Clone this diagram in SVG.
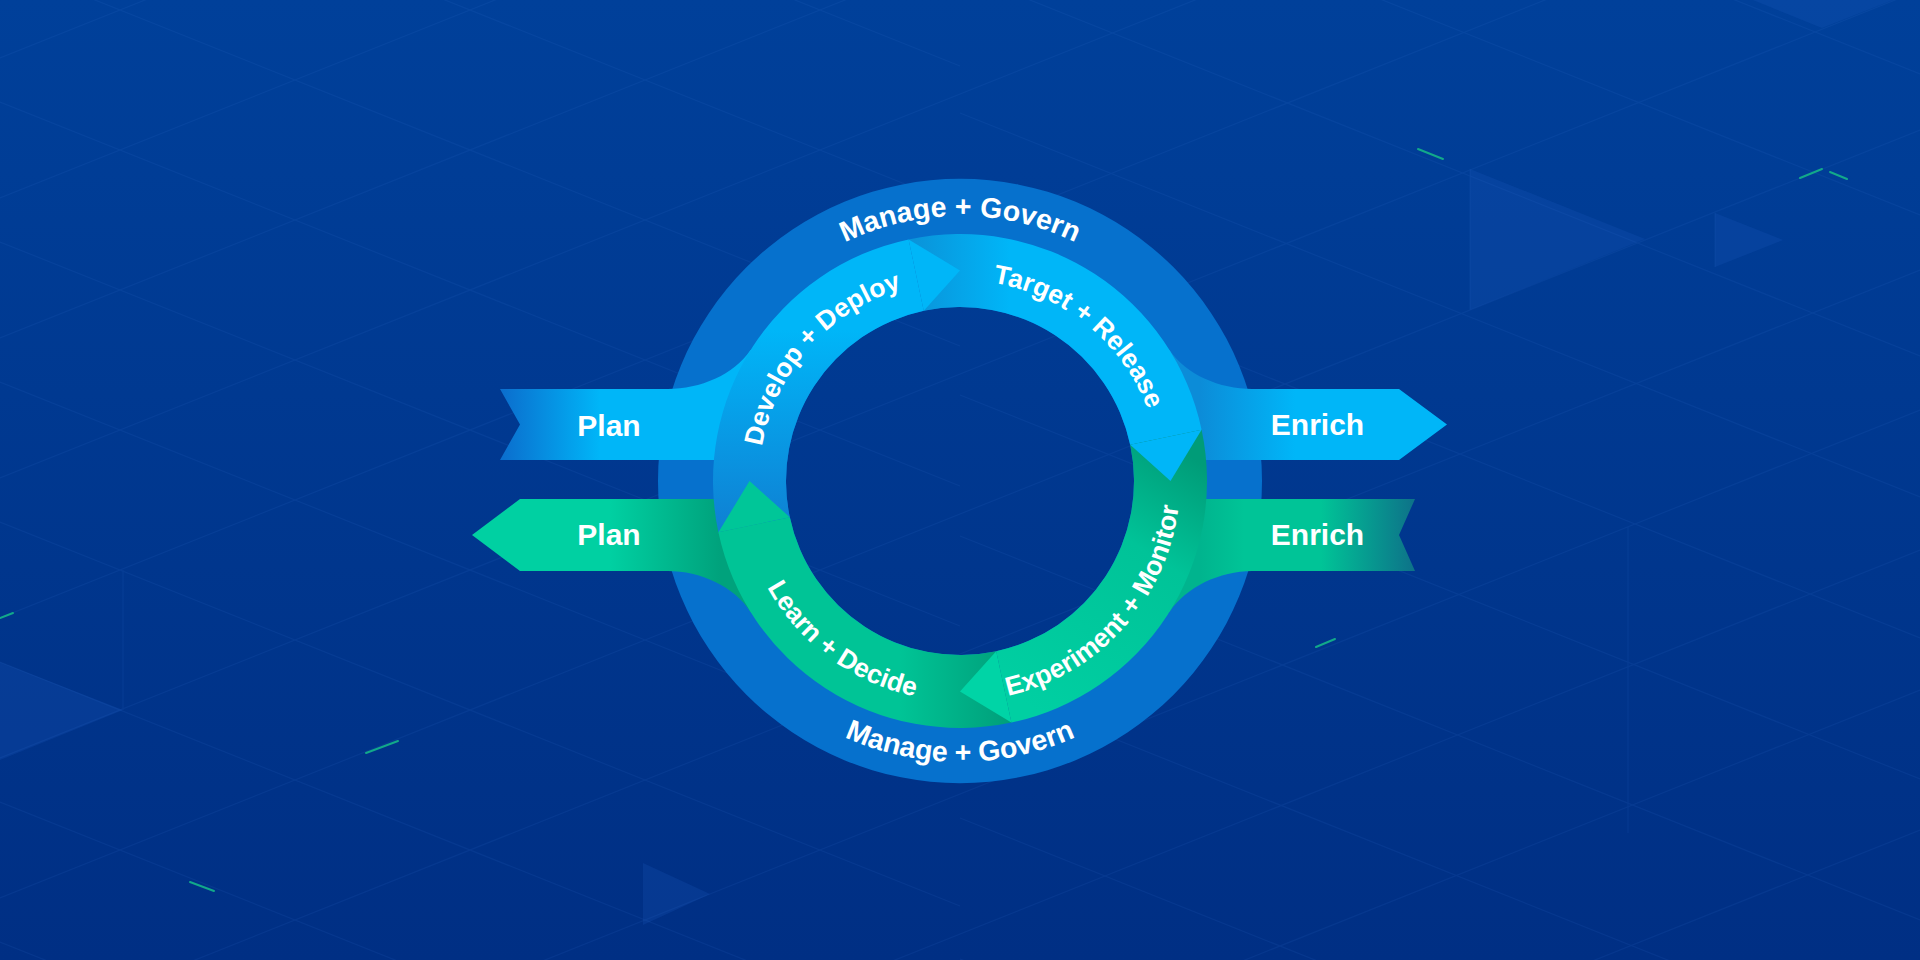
<svg xmlns="http://www.w3.org/2000/svg" width="1920" height="960" viewBox="0 0 1920 960">
<style>
.lbl{fill:#ffffff;font-family:"Liberation Sans",Arial,Helvetica,sans-serif;font-weight:700}
.big{font-size:30px}
.ringt{font-size:28.5px}
.seg{font-size:26.5px}
.lat{stroke:#3a78d8;stroke-width:1.2;opacity:0.11}
.tri{fill:#1a5cc0;opacity:0.22}
.dash{stroke:#12a98a;stroke-width:2;stroke-linecap:round}
</style>
<defs>
<linearGradient id="bg" x1="0" y1="0" x2="0" y2="1"><stop offset="0" stop-color="#00409a"/><stop offset="1" stop-color="#002f84"/></linearGradient>
<linearGradient id="gPlanBlue" gradientUnits="userSpaceOnUse" x1="500" y1="0" x2="600" y2="0"><stop offset="0" stop-color="#0b6dcd"/><stop offset="1" stop-color="#00b6f8"/></linearGradient>
<linearGradient id="gPlanGreen" gradientUnits="userSpaceOnUse" x1="610" y1="0" x2="720" y2="0"><stop offset="0" stop-color="#00d0a2"/><stop offset="1" stop-color="#00a27c"/></linearGradient>
<linearGradient id="gEnrichBlue" gradientUnits="userSpaceOnUse" x1="1200" y1="0" x2="1295" y2="0"><stop offset="0" stop-color="#0c8cd8"/><stop offset="1" stop-color="#00b6f8"/></linearGradient>
<linearGradient id="gEnrichGreen" gradientUnits="userSpaceOnUse" x1="1200" y1="0" x2="1420" y2="0"><stop offset="0" stop-color="#00b48e"/><stop offset="0.2" stop-color="#00c497"/><stop offset="0.55" stop-color="#00c497"/><stop offset="1" stop-color="#0e6d88"/></linearGradient>
<linearGradient id="gDev" gradientUnits="userSpaceOnUse" x1="0" y1="530" x2="0" y2="330"><stop offset="0" stop-color="#0f80d3"/><stop offset="1" stop-color="#00b6f8"/></linearGradient>
<linearGradient id="gTgt" gradientUnits="userSpaceOnUse" x1="915" y1="0" x2="1010" y2="0"><stop offset="0" stop-color="#0a94da"/><stop offset="1" stop-color="#00b6f8"/></linearGradient>
<linearGradient id="gExp" gradientUnits="userSpaceOnUse" x1="1180" y1="450" x2="1020" y2="700"><stop offset="0" stop-color="#009c78"/><stop offset="0.35" stop-color="#00c398"/><stop offset="1" stop-color="#00cfa2"/></linearGradient>
<linearGradient id="gLrn" gradientUnits="userSpaceOnUse" x1="1010" y1="0" x2="900" y2="0"><stop offset="0" stop-color="#009f7a"/><stop offset="1" stop-color="#00c496"/></linearGradient>
<path id="pTop" d="M695,481 A265,265 0 0 1 1225,481"/>
<path id="pBot" d="M679,481 A281,281 0 0 0 1241,481"/>
<path id="pDev" d="M769.4,544.8 A201,201 0 0 1 1000.1,284"/>
<path id="pTgt" d="M889,293 A201,201 0 0 1 1158.4,513.5"/>
<path id="pExp" d="M914.3,696.2 A220,220 0 0 0 1169.2,413"/>
<path id="pLrn" d="M741.4,456.1 A220,220 0 0 0 1047.7,682.8"/>
</defs>

<g id="background">
<rect x="0" y="0" width="1920" height="960" fill="url(#bg)"/>
<polygon class="tri" points="1470,169 1645,239 1470,310"/>
<polygon class="tri" points="1715,213 1783,240 1715,267"/>
<polygon class="tri" points="1753,0 1822,28 1893,0"/>
<polygon class="tri" points="0,662 123,710 0,760"/>
<polygon class="tri" points="643,863 710,894 643,925"/>
<g class="lat">
<line x1="960" y1="-310" x2="1920" y2="74"/>
<line x1="960" y1="-169" x2="1920" y2="215"/>
<line x1="960" y1="-28" x2="1920" y2="356"/>
<line x1="960" y1="113" x2="1920" y2="497"/>
<line x1="960" y1="254" x2="1920" y2="638"/>
<line x1="960" y1="395" x2="1920" y2="779"/>
<line x1="960" y1="536" x2="1920" y2="920"/>
<line x1="960" y1="677" x2="1920" y2="1061"/>
<line x1="960" y1="818" x2="1920" y2="1202"/>
<line x1="960" y1="959" x2="1920" y2="1343"/>
<line x1="0" y1="-318" x2="960" y2="66"/>
<line x1="0" y1="-178" x2="960" y2="206"/>
<line x1="0" y1="-38" x2="960" y2="346"/>
<line x1="0" y1="102" x2="960" y2="486"/>
<line x1="0" y1="242" x2="960" y2="626"/>
<line x1="0" y1="382" x2="960" y2="766"/>
<line x1="0" y1="522" x2="960" y2="906"/>
<line x1="0" y1="662" x2="960" y2="1046"/>
<line x1="0" y1="802" x2="960" y2="1186"/>
<line x1="0" y1="942" x2="960" y2="1326"/>
<line x1="0" y1="58" x2="1920" y2="-710"/>
<line x1="0" y1="198" x2="1920" y2="-570"/>
<line x1="0" y1="338" x2="1920" y2="-430"/>
<line x1="0" y1="478" x2="1920" y2="-290"/>
<line x1="0" y1="618" x2="1920" y2="-150"/>
<line x1="0" y1="758" x2="1920" y2="-10"/>
<line x1="0" y1="898" x2="1920" y2="130"/>
<line x1="0" y1="1038" x2="1920" y2="270"/>
<line x1="0" y1="1178" x2="1920" y2="410"/>
<line x1="0" y1="1318" x2="1920" y2="550"/>
<line x1="0" y1="1458" x2="1920" y2="690"/>
<line x1="0" y1="1598" x2="1920" y2="830"/>
<line x1="1470" y1="169" x2="1470" y2="310"/>
<line x1="1715" y1="213" x2="1715" y2="267"/>
<line x1="123" y1="570" x2="123" y2="710"/>
<line x1="1628" y1="527" x2="1628" y2="833"/>
</g>
<line class="dash" x1="1418" y1="149" x2="1443" y2="159"/>
<line class="dash" x1="1800" y1="178" x2="1822" y2="169"/>
<line class="dash" x1="1830" y1="172" x2="1847" y2="179"/>
<line class="dash" x1="0" y1="618" x2="13" y2="613"/>
<line class="dash" x1="366" y1="753" x2="398" y2="741"/>
<line class="dash" x1="190" y1="882" x2="214" y2="891"/>
<line class="dash" x1="1316" y1="647" x2="1335" y2="639"/>
</g>

<g id="manage-govern-ring">
<path fill="#0671cd" fill-rule="evenodd" d="M658,481 A302,302 0 1 0 1262,481 A302,302 0 1 0 658,481 Z M786,481 A174,174 0 1 0 1134,481 A174,174 0 1 0 786,481 Z"/>
<text class="lbl ringt"><textPath href="#pTop" startOffset="50%" text-anchor="middle">Manage + Govern</textPath></text>
<text class="lbl ringt"><textPath href="#pBot" startOffset="50%" text-anchor="middle">Manage + Govern</textPath></text>
</g>

<g id="connectors">
<g id="plan-in">
<path fill="url(#gPlanBlue)" d="M500,389 H668 C700,389 734,375 750.5,350.1 L800,350 L760,460 H500 L520,424.5 Z"/>
<text class="lbl big" x="609" y="436" text-anchor="middle">Plan</text>
</g>
<g id="plan-out">
<path fill="url(#gPlanGreen)" d="M472,535 L520,499 H760 L800,612 L750.5,611.9 C734.6,586.5 700,571 668,571 H520 Z"/>
<text class="lbl big" x="609" y="545" text-anchor="middle">Plan</text>
</g>
<g id="enrich-out">
<path fill="url(#gEnrichBlue)" d="M1169.5,350.1 C1186,375 1220,389 1252,389 H1399 L1447,424.5 L1399,460 H1160 L1120,350 Z"/>
<text class="lbl big" x="1317.5" y="435" text-anchor="middle">Enrich</text>
</g>
<g id="enrich-in">
<path fill="url(#gEnrichGreen)" d="M1160,499 H1415 L1399,535 L1415,571 H1252 C1220,571 1186,587 1169.5,611.9 L1120,612 Z"/>
<text class="lbl big" x="1317.5" y="545" text-anchor="middle">Enrich</text>
</g>
</g>

<g id="develop-deploy">
<path fill="url(#gDev)" d="M718.4,532.35 A247,247 0 0 1 908.65,239.4 L923.8,310.8 A174,174 0 0 0 789.8,517.2 Z"/>
</g>
<g id="target-release">
<path fill="url(#gTgt)" d="M908.65,239.4 A247,247 0 0 1 1201.6,429.65 L1130.2,444.8 A174,174 0 0 0 923.8,310.8 Z"/>
</g>
<g id="experiment-monitor">
<path fill="url(#gExp)" d="M1201.6,429.65 A247,247 0 0 1 1011.35,722.6 L996.2,651.2 A174,174 0 0 0 1130.2,444.8 Z"/>
</g>
<g id="learn-decide">
<path fill="url(#gLrn)" d="M1011.35,722.6 A247,247 0 0 1 718.4,532.35 L789.8,517.2 A174,174 0 0 0 996.2,651.2 Z"/>
</g>

<g id="arrowheads">
<path fill="#00b6f8" d="M908.65,239.4 L960,270.5 L923.8,310.8 Z"/>
<path fill="#00b6f8" d="M1201.6,429.65 L1170.5,481 L1130.2,444.8 Z"/>
<path fill="#00d4a6" d="M1011.35,722.6 L960,691.5 L996.2,651.2 Z"/>
<path fill="#00c698" d="M718.4,532.35 L749.5,481 L789.8,517.2 Z"/>
</g>

<g id="segment-labels">
<text class="lbl seg"><textPath href="#pDev" startOffset="50%" text-anchor="middle">Develop + Deploy</textPath></text>
<text class="lbl seg"><textPath href="#pTgt" startOffset="50%" text-anchor="middle">Target + Release</textPath></text>
<text class="lbl seg"><textPath href="#pExp" startOffset="50%" text-anchor="middle">Experiment + Monitor</textPath></text>
<text class="lbl seg"><textPath href="#pLrn" startOffset="50%" text-anchor="middle">Learn + Decide</textPath></text>
</g>
</svg>
